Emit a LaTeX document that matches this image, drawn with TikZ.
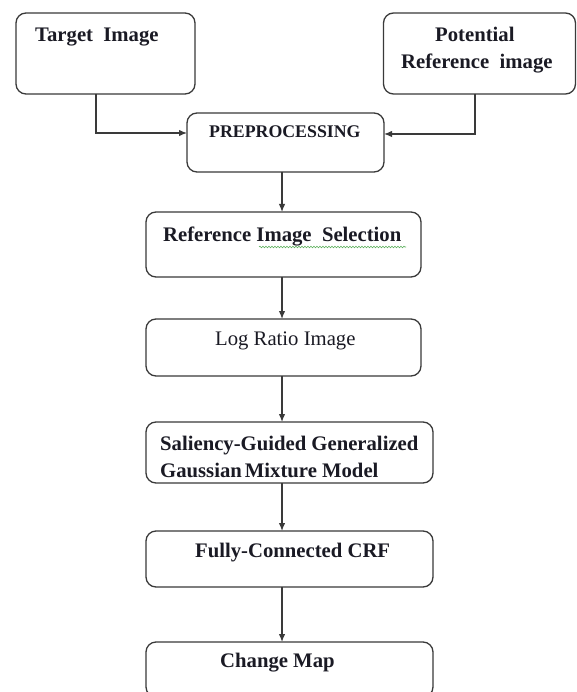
\documentclass[tikz,border=0pt]{standalone}
\usepackage{fontspec}
\setmainfont{Liberation Serif}
\usetikzlibrary{arrows.meta,decorations.pathmorphing}
\definecolor{edgecol}{HTML}{3A3A3A}
\definecolor{txtcol}{HTML}{1A1A24}
\definecolor{wavecol}{HTML}{5DB05D}
\begin{document}
\begin{tikzpicture}[x=1pt,y=-1pt,
  boxst/.style={draw=edgecol, line width=1.3pt, rounded corners=10pt, fill=white,
    inner sep=0pt, outer sep=0pt},
  lbl/.style={anchor=base west, inner sep=0pt, text=txtcol,
    font=\fontsize{20.7}{27}\selectfont\bfseries},
  lblreg/.style={anchor=base west, inner sep=0pt, text=txtcol,
    font=\fontsize{20.7}{27}\selectfont},
  lblsmall/.style={anchor=base west, inner sep=0pt, text=txtcol,
    font=\fontsize{17.8}{22}\selectfont\bfseries},
  arr/.style={draw=edgecol, line width=1.3pt, -{Latex[length=8pt,width=6.5pt]}}]
\useasboundingbox (0,0) rectangle (577,692);
\clip (0,0) rectangle (577,692);
\fill[white] (0,0) rectangle (577,692);

% boxes
\node[boxst, minimum width=179pt, minimum height=81pt] (tgt) at (105.5,53.5) {};
\node[boxst, minimum width=192pt, minimum height=81pt] (pot) at (479.5,53.5) {};
\node[boxst, minimum width=197pt, minimum height=59pt] (pre) at (285.5,142.5) {};
\node[boxst, minimum width=275pt, minimum height=65pt] (rs) at (283.5,244.5) {};
\node[boxst, minimum width=275pt, minimum height=57pt] (lr) at (283.5,347.5) {};
\node[boxst, minimum width=287pt, minimum height=61pt] (sal) at (289.5,452.5) {};
\node[boxst, minimum width=287pt, minimum height=56pt] (crf) at (289.5,559) {};
\node[boxst, minimum width=287pt, minimum height=55pt] (cm) at (289.5,669.5) {};

% texts
\node[lbl] (tgtt) at (35,42) {Target\ \ Image};
\node[lbl] (pott1) at (435,42) {Potential};
\node[lbl] (pott2) at (401,69) {Reference\ \ image};
\node[lblsmall] (pret) at (209,138) {PREPROCESSING};
\node[lbl] (rst) at (163,241) {Reference Image\ \ Selection};
\node[lblreg] (lrt) at (215,345) {Log Ratio Image};
\node[lbl] (salt1) at (160,450) {Saliency-Guided Generalized};
\node[lbl] (salt2) at (160,477) {Gaussian\hspace{3pt}Mixture Model};
\node[lbl] (crft) at (195,557) {Fully-Connected CRF};
\node[lbl] (cmt) at (220,667) {Change Map};

% spell-check squiggle
\draw[wavecol, line width=0.6pt, decorate,
  decoration={snake, amplitude=0.8pt, segment length=3pt}] (259,247) -- (406,247);

% connectors
\coordinate (tj) at (96,133);
\coordinate (pj) at (475,134);
\coordinate (ax) at (282,0);
\draw[arr] (tgt.south -| tj) |- (pre.west |- tj);
\draw[arr] (pot.south -| pj) |- (pre.east |- pj);
\draw[arr] (pre.south -| ax) -- (rs.north -| ax);
\draw[arr] (rs.south -| ax) -- (lr.north -| ax);
\draw[arr] (lr.south -| ax) -- (sal.north -| ax);
\draw[arr] (sal.south -| ax) -- (crf.north -| ax);
\draw[arr] (crf.south -| ax) -- (cm.north -| ax);
\end{tikzpicture}
\end{document}
